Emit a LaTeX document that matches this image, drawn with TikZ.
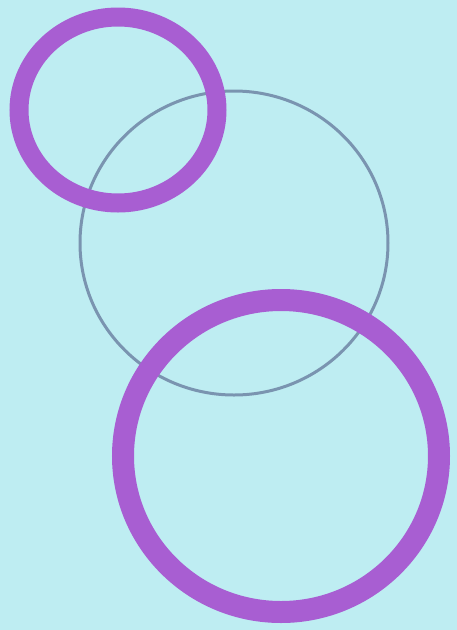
\documentclass[tikz,border=0pt]{standalone}
\usepackage{xcolor}
\usepackage{tikz}
\definecolor{paperblue}{RGB}{190, 237, 242}
\definecolor{markerpurple}{RGB}{168, 94, 210}
\definecolor{pencilgrey}{RGB}{122, 148, 176}

\begin{document}
\begin{tikzpicture}[x=1pt, y=-1pt,
    marker/.style={draw=markerpurple, line width=#1},
    pencil/.style={draw=pencilgrey, line width=3pt}
]
    \fill[paperblue] (0,0) rectangle (457,630);
    \useasboundingbox (0,0) rectangle (457,630);

    \coordinate (topring) at (118,110);
    \coordinate (midring) at (234,243);
    \coordinate (lowring) at (281,456);

    \draw[pencil] (midring) ellipse [x radius=154, y radius=152];
    \draw[marker=19pt] (topring) ellipse [x radius=99, y radius=93];
    \draw[marker=22pt] (lowring) ellipse [x radius=158, y radius=156];
\end{tikzpicture}
\end{document}
